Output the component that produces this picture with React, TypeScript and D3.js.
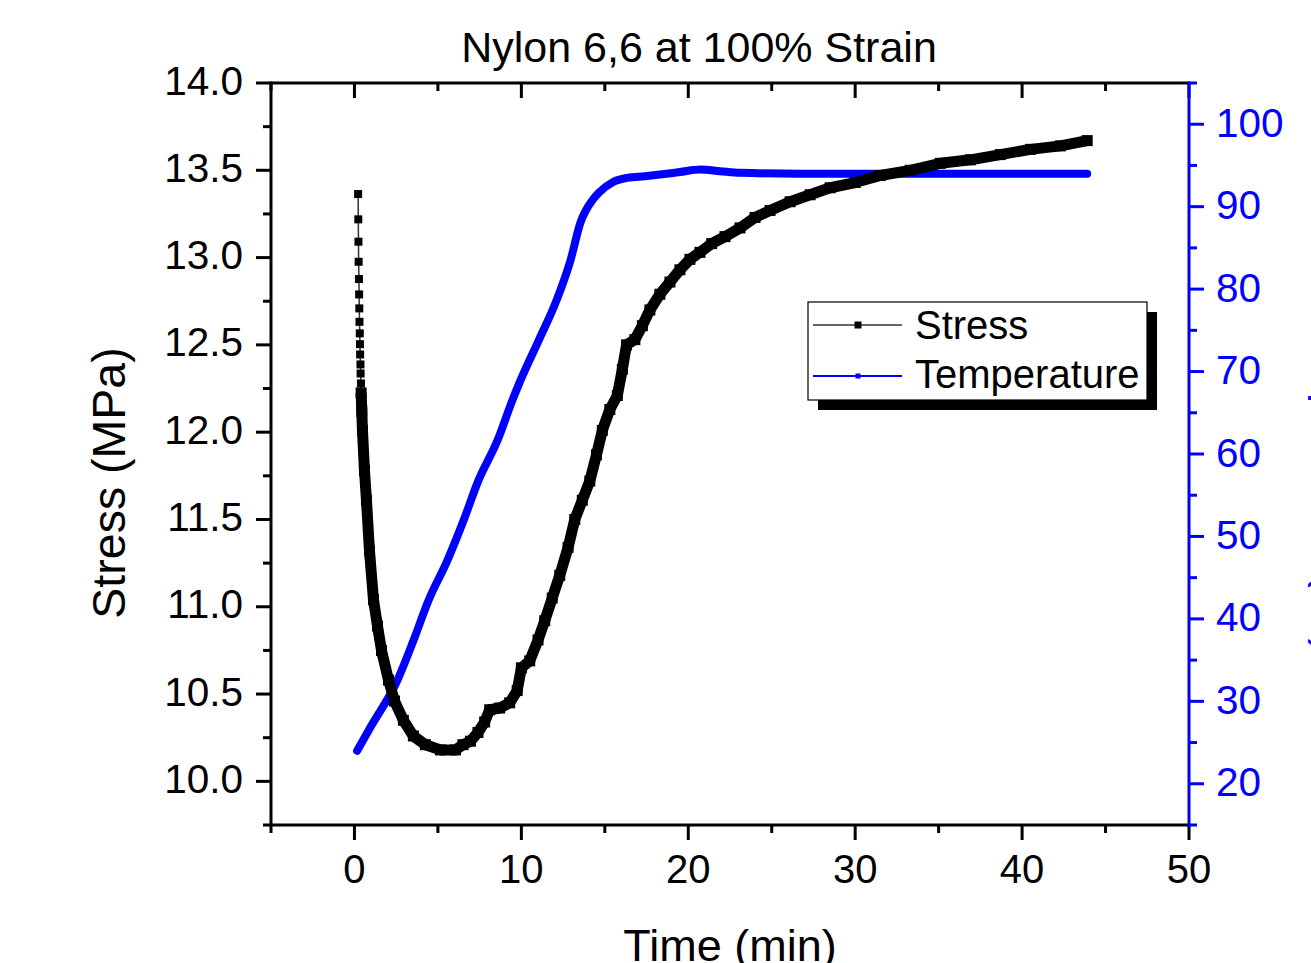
import React from "react";
import * as d3 from "d3";

// ---- Data ----
const stressTime = [
  0.22, 0.23, 0.24, 0.25, 0.27, 0.28, 0.29, 0.3, 0.32, 0.33, 0.34, 0.36, 0.37, 0.39, 0.4,
  0.44, 0.48, 0.6, 0.72, 0.9, 1.14, 1.38, 1.62, 2.04, 2.4, 2.93, 3.53, 4.25, 5.15, 6.05,
  6.5, 6.95, 7.4, 7.8, 8.1, 8.7, 9.3, 9.75, 10.0, 10.5, 11.0, 11.4, 11.85, 12.3, 12.8,
  13.2, 13.65, 14.1, 14.5, 14.85, 15.3, 15.75, 16.05, 16.3, 16.8, 17.25, 17.7, 18.3,
  18.9, 19.5, 20.1, 20.7, 21.4, 22.2, 23.1, 24.0, 24.9, 26.1, 27.3, 28.5, 30.0, 31.5,
  33.3, 35.1, 36.9, 38.7, 40.5, 42.3, 43.9,
];
const stressValue = [
  13.364, 13.219, 13.091, 12.976, 12.877, 12.789, 12.709, 12.632, 12.566, 12.504, 12.445,
  12.388, 12.336, 12.279, 12.225,
  12.12, 12.01, 11.78, 11.61, 11.32, 11.04, 10.89, 10.75, 10.58, 10.46, 10.35, 10.26,
  10.21, 10.18, 10.18, 10.21, 10.23, 10.28, 10.34, 10.41, 10.42, 10.45, 10.52, 10.65,
  10.69, 10.81, 10.92, 11.05, 11.18, 11.34, 11.5, 11.61, 11.72, 11.87, 12.01, 12.13,
  12.21, 12.36, 12.5, 12.53, 12.61, 12.7, 12.79, 12.86, 12.93, 12.99, 13.03, 13.08,
  13.12, 13.17, 13.23, 13.27, 13.32, 13.36, 13.4, 13.43, 13.47, 13.5, 13.54, 13.56,
  13.59, 13.62, 13.64, 13.67,
];
const discreteCount = 15; // early, sparsely sampled points drawn as separate squares

const tempTime = [
  0.16, 1.0, 2.56, 3.54, 4.43, 5.57, 6.53, 7.43, 8.56, 9.46, 9.94, 11.02, 12.1, 12.93,
  13.53, 14.3, 14.7, 15.5, 16.35, 17.4, 18.3, 19.5, 20.7, 21.9, 23.1, 26.7, 32.7, 38.7, 43.9,
];
const tempValue = [
  24.0, 27.0, 32.5, 37.4, 42.2, 47.1, 51.9, 56.8, 61.6, 66.5, 68.9, 73.7, 78.6, 83.4,
  88.0, 90.9, 91.8, 93.0, 93.5, 93.7, 93.9, 94.2, 94.5, 94.3, 94.1, 94.0, 94.0, 94.0, 94.0,
];

const xMajorTicks = [0, 10, 20, 30, 40, 50];
const xMinorTicks = [-5, 5, 15, 25, 35, 45];
const leftMajorTicks = [10.0, 10.5, 11.0, 11.5, 12.0, 12.5, 13.0, 13.5, 14.0];
const leftMinorTicks = [9.75, 10.25, 10.75, 11.25, 11.75, 12.25, 12.75, 13.25, 13.75];
const rightMajorTicks = [20, 30, 40, 50, 60, 70, 80, 90, 100];
const rightMinorTicks = [15, 25, 35, 45, 55, 65, 75, 85, 95, 105];

const titleText = "Nylon 6,6 at 100% Strain";
const xLabel = "Time (min)";
const leftLabel = "Stress (MPa)";
const rightLabel = "Temperature (°C)";
const seriesNames = ["Stress", "Temperature"];

const FONT = "'Liberation Sans', Arial, sans-serif";
const BLUE = "#0000FF";

export default function App() {
  const left = 271, right = 1189, top = 83, bottom = 825;
  const x = d3.scaleLinear().domain([-5, 50]).range([left, right]);
  const yL = d3.scaleLinear().domain([9.75, 14]).range([bottom, top]);
  const yR = d3.scaleLinear().domain([15, 105]).range([bottom, top]);

  const stressPts: [number, number][] = stressTime.map((t, i) => [t, stressValue[i]]);
  const tempPts: [number, number][] = tempTime.map((t, i) => [t, tempValue[i]]);

  const stressLine = d3
    .line<[number, number]>()
    .x((d) => x(d[0]))
    .y((d) => yL(d[1]));
  const tempLine = d3
    .line<[number, number]>()
    .x((d) => x(d[0]))
    .y((d) => yR(d[1]))
    .curve(d3.curveMonotoneX);

  const denseStress = stressPts.slice(discreteCount - 1);
  const earlyStress = stressPts.slice(0, discreteCount);

  return (
    <svg
      width={1311}
      height={963}
      style={{ position: "absolute", left: 0, top: 0, background: "#fff", overflow: "hidden" }}
      fontFamily={FONT}
    >
      <rect x={0} y={0} width={1311} height={963} fill="#fff" />

      {/* Title */}
      <text x={699} y={62} fontSize={43} textAnchor="middle" fill="#000">
        {titleText}
      </text>

      {/* Temperature series */}
      <path
        d={tempLine(tempPts) || ""}
        fill="none"
        stroke={BLUE}
        strokeWidth={8}
        strokeLinejoin="round"
        strokeLinecap="round"
      />

      {/* Stress series */}
      <path
        d={stressLine(earlyStress) || ""}
        fill="none"
        stroke="#333"
        strokeWidth={1.5}
      />
      {earlyStress.map((d, i) => (
        <rect
          key={"se" + i}
          x={x(d[0]) - 4}
          y={yL(d[1]) - 4}
          width={8}
          height={8}
          fill="#000"
        />
      ))}
      <path
        d={stressLine(denseStress) || ""}
        fill="none"
        stroke="#000"
        strokeWidth={11}
        strokeLinejoin="round"
      />
      {denseStress.map((d, i) => (
        <rect
          key={"sd" + i}
          x={x(d[0]) - 5.5}
          y={yL(d[1]) - 5.5}
          width={11}
          height={11}
          fill="#000"
        />
      ))}

      {/* Frame: top & bottom & left (black) */}
      <line x1={left} x2={right} y1={top} y2={top} stroke="#000" strokeWidth={3} />
      <line x1={left - 1.5} x2={right} y1={bottom} y2={bottom} stroke="#000" strokeWidth={3} />
      <line x1={left} x2={left} y1={top - 1.5} y2={bottom + 1.5} stroke="#000" strokeWidth={3} />

      {/* Bottom ticks (outward) & top ticks (inward) */}
      {xMajorTicks.map((t) => (
        <g key={"xM" + t}>
          <line x1={x(t)} x2={x(t)} y1={bottom} y2={bottom + 15} stroke="#000" strokeWidth={3} />
          <line x1={x(t)} x2={x(t)} y1={top} y2={top + 15} stroke="#000" strokeWidth={3} />
          <text x={x(t)} y={883} fontSize={40} textAnchor="middle" fill="#000">
            {t}
          </text>
        </g>
      ))}
      {xMinorTicks.map((t) => (
        <g key={"xm" + t}>
          <line x1={x(t)} x2={x(t)} y1={bottom} y2={bottom + 8} stroke="#000" strokeWidth={3} />
          <line x1={x(t)} x2={x(t)} y1={top} y2={top + 8} stroke="#000" strokeWidth={3} />
        </g>
      ))}

      {/* Left axis ticks */}
      {leftMajorTicks.map((v) => (
        <g key={"lM" + v}>
          <line x1={left - 15} x2={left} y1={yL(v)} y2={yL(v)} stroke="#000" strokeWidth={3} />
          <text x={243} y={yL(v) + 11.5} fontSize={40.5} textAnchor="end" fill="#000">
            {v.toFixed(1)}
          </text>
        </g>
      ))}
      {leftMinorTicks.map((v) => (
        <line key={"lm" + v} x1={left - 8} x2={left} y1={yL(v)} y2={yL(v)} stroke="#000" strokeWidth={3} />
      ))}

      {/* Right axis (blue) */}
      <line x1={right} x2={right} y1={top - 1.5} y2={bottom + 1.5} stroke={BLUE} strokeWidth={3} />
      {rightMajorTicks.map((v) => (
        <g key={"rM" + v}>
          <line x1={right} x2={right + 15} y1={yR(v)} y2={yR(v)} stroke={BLUE} strokeWidth={3} />
          <text x={1216} y={yR(v) + 12.5} fontSize={40.5} textAnchor="start" fill={BLUE}>
            {v}
          </text>
        </g>
      ))}
      {rightMinorTicks.map((v) => (
        <line key={"rm" + v} x1={right} x2={right + 8} y1={yR(v)} y2={yR(v)} stroke={BLUE} strokeWidth={3} />
      ))}

      {/* Axis titles */}
      <text
        transform={`translate(125, 483) rotate(-90)`}
        fontSize={46.5}
        textAnchor="middle"
        fill="#000"
      >
        {leftLabel}
      </text>
      <text x={730} y={961} fontSize={45} textAnchor="middle" fill="#000">
        {xLabel}
      </text>
      <text
        transform={`translate(1317, 308) rotate(90)`}
        fontSize={45}
        textAnchor="start"
        fill={BLUE}
      >
        {rightLabel}
      </text>

      {/* Legend */}
      <rect x={818} y={312} width={339} height={98} fill="#000" />
      <rect x={808} y={302} width={339} height={98} fill="#fff" stroke="#000" strokeWidth={1.2} />
      <line x1={813} x2={902} y1={325} y2={325} stroke="#333" strokeWidth={1.5} />
      <rect x={854.5} y={321.5} width={7} height={7} fill="#000" />
      <text x={915} y={339} fontSize={40} fill="#000">
        {seriesNames[0]}
      </text>
      <line x1={813} x2={902} y1={376} y2={376} stroke={BLUE} strokeWidth={2} />
      <rect x={855.5} y={373.5} width={5} height={5} fill={BLUE} />
      <text x={915} y={388} fontSize={40} fill="#000">
        {seriesNames[1]}
      </text>
    </svg>
  );
}
